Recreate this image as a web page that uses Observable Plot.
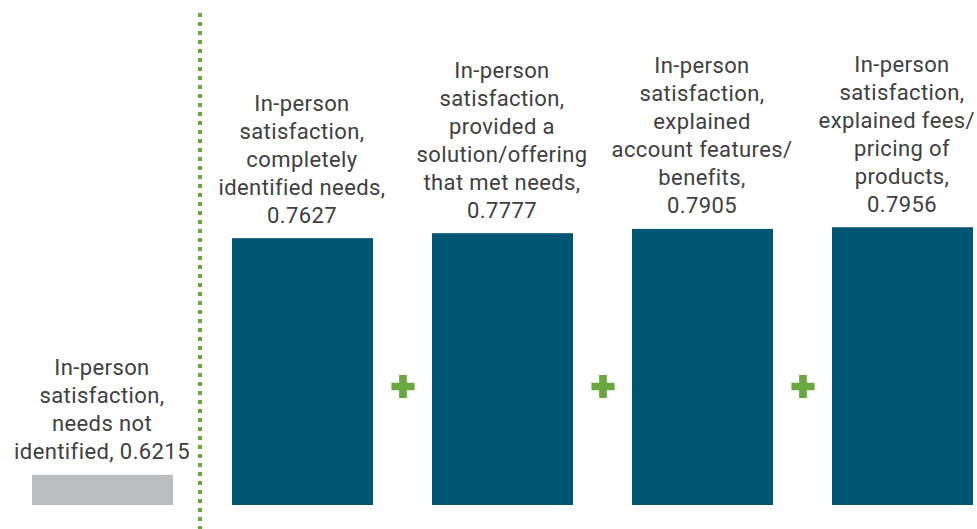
<!DOCTYPE html>
<html><head><meta charset="utf-8">
<script src="https://cdn.jsdelivr.net/npm/d3@7"></script>
<script src="https://cdn.jsdelivr.net/npm/@observablehq/plot@0.6"></script>
<style>body{margin:0;background:#fff}</style>
</head><body><div id="chart"></div>
<script>
// ---- data ----
const categories = [
  "needs not identified",
  "completely identified needs",
  "provided a solution/offering that met needs",
  "explained account features/benefits",
  "explained fees/pricing of products"
];
const values = [0.6215, 0.7627, 0.7777, 0.7905, 0.7956];
const labels = [
  "In-person\nsatisfaction,\nneeds not\nidentified, 0.6215",
  "In-person\nsatisfaction,\ncompletely\nidentified needs,\n0.7627",
  "In-person\nsatisfaction,\nprovided a\nsolution/offering\nthat met needs,\n0.7777",
  "In-person\nsatisfaction,\nexplained\naccount features/\nbenefits,\n0.7905",
  "In-person\nsatisfaction,\nexplained fees/\npricing of\nproducts,\n0.7956"
];
const groups = ["baseline", "driver", "driver", "driver", "driver"];
// piecewise (broken) value axis, as drawn in the original
const yBreaks = [0.6105, 0.7, 1.44];
// "+" connectors follow these bars; the dotted divider follows the baseline bar
const plusAfter = [categories[1], categories[2], categories[3]];
const dividerAfter = [categories[0]];

const data = categories.map((c, i) => ({cat: c, value: values[i], label: labels[i], group: groups[i]}));

const TEAL = "#005673", GRAY = "#bcbdc1", GREEN = "#6aa83f", INK = "#404040";
const W = 977, H = 529;

const chart = Plot.plot({
  width: W,
  height: H,
  marginLeft: 31,
  marginRight: 4,
  marginTop: 13,
  marginBottom: 24,
  style: {fontFamily: "Roboto, 'DejaVu Sans', sans-serif", background: "#fff"},
  x: {type: "band", domain: categories, paddingInner: 0.295, paddingOuter: 0, axis: null},
  y: {type: "linear", domain: yBreaks, axis: null},
  color: {domain: ["baseline", "driver"], range: [GRAY, TEAL]},
  marks: [
    Plot.ruleX(dividerAfter, {x: d => d, dx: 97, stroke: GREEN, strokeWidth: 4, strokeDasharray: "4,5", insetBottom: -24}),
    Plot.barY(data, {x: "cat", y1: yBreaks[0], y2: "value", fill: "group"}),
    Plot.text(data, {x: "cat", y: "value", text: "label", lineAnchor: "bottom", dy: -16,
      fontSize: 22, lineHeight: 28 / 22, fill: INK, fontWeight: 400, dx: -1}),
    Plot.dot(plusAfter, {x: d => d, dx: 100, frameAnchor: "bottom", dy: -119, symbol: "cross", r: 9.7, fill: GREEN, stroke: "none"})
  ]
});
chart.style.letterSpacing = "0.4px";
document.getElementById("chart").append(chart);

// keep label lines inside the picture (the original nudges an overflowing line inward)
const svgBox = chart.getBoundingClientRect();
chart.querySelectorAll("text tspan").forEach(t => {
  const r = t.getBoundingClientRect();
  const over = r.right - (svgBox.left + W - 2);
  if (over > 0) t.setAttribute("dx", -over);
});
</script>
</body></html>
